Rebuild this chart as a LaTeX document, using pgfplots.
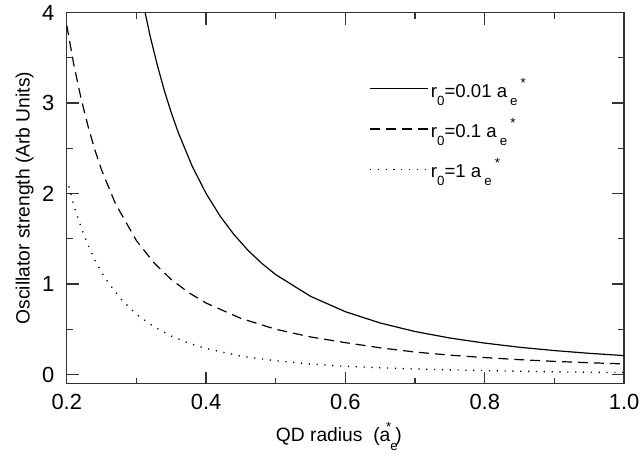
\documentclass[border=0pt]{standalone}
\usepackage{fontspec}
\setmainfont{Liberation Sans}
\usepackage{pgfplots}
\pgfplotsset{compat=1.18}

\newcommand{\lsub}[1]{\raisebox{-0.8ex}{\fontsize{10}{10}\selectfont #1}}
\newcommand{\lsup}[1]{\raisebox{1.0ex}{\fontsize{10}{10}\selectfont #1}}

\begin{document}
\begin{tikzpicture}
\begin{axis}[
    scale only axis,
    width=419.5pt, height=279.2pt,
    xmin=0.2, xmax=1.0,
    ymin=-0.1, ymax=4,
    xtick={0.2,0.4,0.6,0.8,1.0},
    ytick={0,1,2,3,4},
    minor x tick num=1,
    minor y tick num=1,
    tick align=inside,
    major tick length=9pt,
    minor tick length=4.5pt,
    axis line style={line width=1.1pt, black!80},
    every tick/.style={line width=0.9pt, black!80},
    /pgf/number format/assume math mode=true,
    xticklabel style={/pgf/number format/.cd, fixed, fixed zerofill, precision=1, /tikz/.cd, yshift=-4.5pt},
    yticklabel style={/pgf/number format/.cd, fixed, precision=0, /tikz/.cd, xshift=-5.75pt},
    tick label style={font=\fontsize{16.5}{18}\selectfont},
    label style={font=\fontsize{14.5}{16}\selectfont},
    xlabel={QD radius~~(a\lsub{e}\hspace{-0.6em}\lsup{*}\hspace{0.2em})},
    ylabel={Oscillator strength (Arb Units)},
    xlabel style={at={(axis description cs:0.5,0)}, anchor=base, yshift=-44pt, xshift=-5pt},
    ylabel style={at={(axis description cs:0,0.5)}, anchor=south, yshift=21.5pt},
    legend cell align=left,
    legend style={draw=none, fill=none, at={(rel axis cs:0.535,0.838)}, anchor=north west,
        font=\fontsize{14}{16}\selectfont, row sep=10.5pt,
        nodes={inner xsep=2pt}},
    legend image code/.code={\draw[#1] (0cm,0cm) -- (1.53cm,0cm);},
]
\addplot[black, line width=0.9pt] coordinates {
    (0.3125,4.00) (0.32,3.73) (0.33,3.42) (0.34,3.14) (0.35,2.895) (0.36,2.676)
    (0.38,2.303) (0.40,2.001) (0.42,1.752) (0.44,1.547) (0.46,1.374) (0.48,1.228)
    (0.50,1.104) (0.55,0.864) (0.60,0.694) (0.65,0.569) (0.70,0.475) (0.75,0.403)
    (0.80,0.347) (0.85,0.301) (0.90,0.2645) (0.95,0.234) (1.00,0.209)
};
\addlegendentry{r\lsub{0}=0.01 a\,\lsub{e}\,\lsup{*}}
\addplot[black, line width=0.9pt, dash pattern=on 7.5pt off 4.5pt] coordinates {
    (0.20,3.86) (0.21,3.43) (0.22,3.07) (0.23,2.76) (0.24,2.49) (0.25,2.26)
    (0.27,1.886) (0.30,1.480) (0.325,1.236) (0.35,1.050) (0.375,0.905) (0.40,0.790)
    (0.45,0.620) (0.50,0.500) (0.55,0.415) (0.60,0.352) (0.65,0.295) (0.70,0.248)
    (0.75,0.214) (0.80,0.187) (0.85,0.164) (0.90,0.145) (0.95,0.130) (1.00,0.117)
};
\addlegendentry{r\lsub{0}=0.1 a\,\lsub{e}\,\lsup{*}}
\addplot[black, line width=1pt, dash pattern=on 0.9pt off 5pt] coordinates {
    (0.203,2.08) (0.21,1.87) (0.22,1.64) (0.23,1.44) (0.24,1.27) (0.25,1.13)
    (0.26,1.01) (0.28,0.815) (0.30,0.665) (0.325,0.528) (0.35,0.425) (0.375,0.347)
    (0.40,0.287) (0.45,0.203) (0.50,0.152) (0.55,0.116) (0.60,0.091) (0.65,0.074)
    (0.70,0.061) (0.75,0.051) (0.80,0.043) (0.85,0.036) (0.90,0.030) (0.95,0.025)
    (1.00,0.021)
};
\addlegendentry{r\lsub{0}=1 a\,\lsub{e}\,\lsup{*}}
\end{axis}
\pgfresetboundingbox
\path ([shift={(-50.25pt,-56.25pt)}]current axis.south west) rectangle ([shift={(12pt,9.5pt)}]current axis.north east);
\end{tikzpicture}
\end{document}
